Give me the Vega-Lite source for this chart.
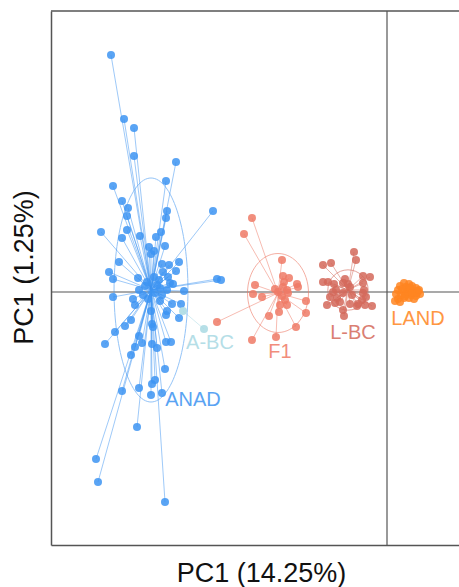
{
  "$schema": "https://vega.github.io/schema/vega-lite/v6.json",
  "width": 408,
  "height": 534,
  "autosize": {"type": "none"},
  "padding": {"left": 51, "top": 11, "right": 0, "bottom": 42},
  "background": "white",
  "config": {
    "view": {"stroke": null},
    "font": "Liberation Sans",
    "axis": {
      "domain": true, "domainColor": "#555555", "domainWidth": 1.5,
      "ticks": false, "labels": false, "grid": false,
      "titleFont": "Liberation Sans", "titleFontSize": 27, "titleFontWeight": "normal", "titleColor": "#111111"
    },
    "axisX": {"titleX": 210, "titleY": 36, "titleBaseline": "alphabetic"},
    "axisY": {"titleX": -19, "titleY": 256, "titleBaseline": "alphabetic", "titleAngle": -90}
  },
  "datasets": {
    "one": [{}],
    "centroids": [
      {"group": "ANAD", "cx": -23.6, "cy": 0.2, "lx": -19.4, "ly": -10.8},
      {"group": "A-BC", "cx": -19.35, "cy": -2.8, "lx": -17.7, "ly": -5.1},
      {"group": "F1", "cx": -10.9, "cy": -0.1, "lx": -10.7, "ly": -6.0},
      {"group": "L-BC", "cx": -3.9, "cy": 0.2, "lx": -3.4, "ly": -4.1},
      {"group": "LAND", "cx": 2.1, "cy": 0.0, "lx": 3.1, "ly": -2.7}
    ],
    "points": [
      {"group":"ANAD","x":-27.6,"y":23.7},{"group":"ANAD","x":-26.3,"y":17.3},{"group":"ANAD","x":-25.3,"y":16.4},{"group":"ANAD","x":-25.3,"y":13.6},
      {"group":"ANAD","x":-21.1,"y":13.0},{"group":"ANAD","x":-27.4,"y":10.6},{"group":"ANAD","x":-22.1,"y":11.1},{"group":"ANAD","x":-26.5,"y":9.1},
      {"group":"ANAD","x":-25.9,"y":8.4},{"group":"ANAD","x":-26.0,"y":7.6},{"group":"ANAD","x":-22.0,"y":8.1},{"group":"ANAD","x":-22.1,"y":7.4},
      {"group":"ANAD","x":-17.4,"y":8.1},{"group":"ANAD","x":-28.6,"y":6.0},{"group":"ANAD","x":-26.0,"y":6.2},{"group":"ANAD","x":-26.5,"y":5.4},
      {"group":"ANAD","x":-24.7,"y":5.6},{"group":"ANAD","x":-22.6,"y":6.0},{"group":"ANAD","x":-23.1,"y":5.5},{"group":"ANAD","x":-23.8,"y":4.5},
      {"group":"ANAD","x":-22.2,"y":4.6},{"group":"ANAD","x":-23.3,"y":4.1},{"group":"ANAD","x":-23.6,"y":3.8},{"group":"ANAD","x":-26.8,"y":3.0},
      {"group":"ANAD","x":-20.8,"y":3.0},{"group":"ANAD","x":-22.5,"y":2.8},{"group":"ANAD","x":-21.8,"y":2.7},{"group":"ANAD","x":-21.1,"y":2.1},
      {"group":"ANAD","x":-27.8,"y":2.0},{"group":"ANAD","x":-27.4,"y":1.3},{"group":"ANAD","x":-24.9,"y":1.4},{"group":"ANAD","x":-22.4,"y":2.0},
      {"group":"ANAD","x":-21.9,"y":1.5},{"group":"ANAD","x":-22.8,"y":1.2},{"group":"ANAD","x":-24.0,"y":1.0},{"group":"ANAD","x":-21.7,"y":0.9},
      {"group":"ANAD","x":-21.4,"y":0.8},{"group":"ANAD","x":-17.0,"y":1.3},{"group":"ANAD","x":-16.6,"y":1.2},{"group":"ANAD","x":-24.8,"y":0.2},
      {"group":"ANAD","x":-20.3,"y":0.1},{"group":"ANAD","x":-27.4,"y":-0.5},{"group":"ANAD","x":-25.4,"y":-0.7},{"group":"ANAD","x":-22.7,"y":0.4},
      {"group":"ANAD","x":-22.0,"y":0.2},{"group":"ANAD","x":-23.2,"y":-0.1},{"group":"ANAD","x":-22.5,"y":-0.3},{"group":"ANAD","x":-25.2,"y":-1.3},
      {"group":"ANAD","x":-21.5,"y":-1.2},{"group":"ANAD","x":-20.6,"y":-1.2},{"group":"ANAD","x":-22.0,"y":-1.9},{"group":"ANAD","x":-22.1,"y":-2.3},
      {"group":"ANAD","x":-23.6,"y":-1.9},{"group":"ANAD","x":-20.8,"y":-2.6},{"group":"ANAD","x":-25.6,"y":-2.8},{"group":"ANAD","x":-26.2,"y":-3.4},
      {"group":"ANAD","x":-23.5,"y":-3.2},{"group":"ANAD","x":-23.4,"y":-3.5},{"group":"ANAD","x":-27.2,"y":-4.0},{"group":"ANAD","x":-24.8,"y":-4.4},
      {"group":"ANAD","x":-28.2,"y":-5.2},{"group":"ANAD","x":-25.2,"y":-5.5},{"group":"ANAD","x":-24.5,"y":-5.1},{"group":"ANAD","x":-23.5,"y":-5.2},
      {"group":"ANAD","x":-23.0,"y":-5.6},{"group":"ANAD","x":-22.1,"y":-5.0},{"group":"ANAD","x":-21.6,"y":-5.0},{"group":"ANAD","x":-25.6,"y":-6.3},
      {"group":"ANAD","x":-22.2,"y":-7.7},{"group":"ANAD","x":-23.2,"y":-8.8},{"group":"ANAD","x":-23.5,"y":-9.2},{"group":"ANAD","x":-26.5,"y":-9.9},
      {"group":"ANAD","x":-24.8,"y":-9.6},{"group":"ANAD","x":-22.5,"y":-10.1},{"group":"ANAD","x":-23.6,"y":-10.3},{"group":"ANAD","x":-25.0,"y":-13.5},
      {"group":"ANAD","x":-29.1,"y":-16.7},{"group":"ANAD","x":-28.9,"y":-19.0},{"group":"ANAD","x":-22.2,"y":-21.0},{"group":"ANAD","x":-24.2,"y":0.6},
      {"group":"ANAD","x":-23.0,"y":0.7},{"group":"ANAD","x":-23.9,"y":-0.7},{"group":"ANAD","x":-24.4,"y":-0.3},{"group":"ANAD","x":-22.7,"y":-0.9},
      {"group":"ANAD","x":-23.3,"y":1.5},
      {"group":"A-BC","x":-20.4,"y":-1.9},{"group":"A-BC","x":-18.3,"y":-3.7},
      {"group":"F1","x":-13.5,"y":7.4},{"group":"F1","x":-14.3,"y":5.8},{"group":"F1","x":-10.5,"y":3.2},{"group":"F1","x":-10.4,"y":1.6},
      {"group":"F1","x":-9.8,"y":1.4},{"group":"F1","x":-9.0,"y":0.8},{"group":"F1","x":-8.9,"y":0.5},{"group":"F1","x":-13.2,"y":0.7},
      {"group":"F1","x":-13.4,"y":-0.2},{"group":"F1","x":-12.5,"y":-0.5},{"group":"F1","x":-10.4,"y":0.5},{"group":"F1","x":-10.0,"y":0.2},
      {"group":"F1","x":-10.9,"y":0.0},{"group":"F1","x":-10.5,"y":-0.4},{"group":"F1","x":-10.2,"y":-0.8},{"group":"F1","x":-8.1,"y":-0.9},
      {"group":"F1","x":-10.7,"y":-1.3},{"group":"F1","x":-10.0,"y":-1.3},{"group":"F1","x":-10.8,"y":-2.0},{"group":"F1","x":-8.1,"y":-2.1},
      {"group":"F1","x":-11.8,"y":-2.4},{"group":"F1","x":-9.1,"y":-3.5},{"group":"F1","x":-11.1,"y":-4.5},{"group":"F1","x":-13.5,"y":-4.8},
      {"group":"F1","x":-9.9,"y":-0.1},{"group":"F1","x":-17.0,"y":-3.0},{"group":"F1","x":-11.2,"y":0.3},{"group":"F1","x":-10.3,"y":1.0},
      {"group":"L-BC","x":-3.3,"y":4.0},{"group":"L-BC","x":-3.1,"y":3.2},{"group":"L-BC","x":-6.4,"y":2.7},{"group":"L-BC","x":-5.6,"y":2.9},
      {"group":"L-BC","x":-2.4,"y":1.6},{"group":"L-BC","x":-1.7,"y":1.5},{"group":"L-BC","x":-4.2,"y":1.3},{"group":"L-BC","x":-4.4,"y":0.9},
      {"group":"L-BC","x":-6.4,"y":1.0},{"group":"L-BC","x":-5.9,"y":1.0},{"group":"L-BC","x":-5.3,"y":0.8},{"group":"L-BC","x":-2.4,"y":0.9},
      {"group":"L-BC","x":-2.3,"y":0.2},{"group":"L-BC","x":-5.1,"y":0.2},{"group":"L-BC","x":-3.7,"y":0.5},{"group":"L-BC","x":-5.7,"y":-0.5},
      {"group":"L-BC","x":-5.0,"y":-0.6},{"group":"L-BC","x":-2.4,"y":-0.1},{"group":"L-BC","x":-4.4,"y":-0.1},{"group":"L-BC","x":-3.5,"y":-0.3},
      {"group":"L-BC","x":-2.5,"y":-0.8},{"group":"L-BC","x":-6.0,"y":-1.3},{"group":"L-BC","x":-5.2,"y":-1.1},{"group":"L-BC","x":-4.7,"y":-1.0},
      {"group":"L-BC","x":-3.7,"y":-1.2},{"group":"L-BC","x":-2.9,"y":-1.2},{"group":"L-BC","x":-2.2,"y":-1.3},{"group":"L-BC","x":-1.5,"y":-1.4},
      {"group":"L-BC","x":-4.4,"y":-1.8},{"group":"L-BC","x":-4.3,"y":-2.4},{"group":"L-BC","x":-3.0,"y":-1.4},{"group":"L-BC","x":-2.1,"y":-0.5},
      {"group":"L-BC","x":-5.4,"y":0.0},{"group":"L-BC","x":-3.9,"y":0.8},
      {"group":"LAND","x":1.7,"y":0.9},{"group":"LAND","x":2.2,"y":0.8},{"group":"LAND","x":1.3,"y":0.6},{"group":"LAND","x":1.9,"y":0.5},
      {"group":"LAND","x":2.5,"y":0.6},{"group":"LAND","x":2.9,"y":0.4},{"group":"LAND","x":1.1,"y":0.2},{"group":"LAND","x":1.6,"y":0.1},
      {"group":"LAND","x":2.1,"y":0.2},{"group":"LAND","x":2.6,"y":0.1},{"group":"LAND","x":3.1,"y":0.1},{"group":"LAND","x":3.3,"y":-0.2},
      {"group":"LAND","x":0.9,"y":-0.2},{"group":"LAND","x":1.4,"y":-0.3},{"group":"LAND","x":1.9,"y":-0.2},{"group":"LAND","x":2.4,"y":-0.3},
      {"group":"LAND","x":2.9,"y":-0.4},{"group":"LAND","x":1.1,"y":-0.7},{"group":"LAND","x":1.7,"y":-0.6},{"group":"LAND","x":2.2,"y":-0.6},
      {"group":"LAND","x":2.7,"y":-0.7},{"group":"LAND","x":0.8,"y":-0.9},{"group":"LAND","x":1.3,"y":-1.0},{"group":"LAND","x":2.1,"y":0.0},
      {"group":"LAND","x":2.3,"y":0.4},{"group":"LAND","x":1.5,"y":0.3},{"group":"LAND","x":1.8,"y":-0.4},{"group":"LAND","x":2.5,"y":-0.1},
      {"group":"LAND","x":3.0,"y":-0.1},{"group":"LAND","x":3.2,"y":0.2}
    ]
  },
  "layer": [
    {
      "data": {"name": "one"},
      "mark": {"type": "rule", "color": "#555555", "strokeWidth": 1.2},
      "encoding": {"x": {"datum": 0, "type": "quantitative", "scale": {"domain": [-33.6, 7.2], "nice": false, "zero": false}, "title": "PC1 (14.25%)"}}
    },
    {
      "data": {"name": "one"},
      "mark": {"type": "rule", "color": "#555555", "strokeWidth": 1.2},
      "encoding": {"y": {"datum": 0, "type": "quantitative", "scale": {"domain": [-25.3, 28.1], "nice": false, "zero": false}, "title": "PC1 (1.25%)"}}
    },
    {
      "data": {"name": "one"},
      "mark": {"type": "rule", "color": "#555555", "strokeWidth": 1.5},
      "encoding": {"y": {"datum": 28.1, "type": "quantitative", "scale": {"domain": [-25.3, 28.1], "nice": false, "zero": false}, "title": "PC1 (1.25%)"}}
    },
    {
      "data": {"name": "points"},
      "transform": [{"lookup": "group", "from": {"data": {"name": "centroids"}, "key": "group", "fields": ["cx", "cy"]}}],
      "mark": {"type": "rule", "strokeWidth": 1, "opacity": 0.5},
      "encoding": {
        "x": {"field": "x", "type": "quantitative", "scale": {"domain": [-33.6, 7.2], "nice": false, "zero": false}, "title": "PC1 (14.25%)"},
        "y": {"field": "y", "type": "quantitative", "scale": {"domain": [-25.3, 28.1], "nice": false, "zero": false}, "title": "PC1 (1.25%)"},
        "x2": {"field": "cx"},
        "y2": {"field": "cy"},
        "color": {"field": "group", "type": "nominal", "scale": {"domain": ["ANAD", "A-BC", "F1", "L-BC", "LAND"], "range": ["#3d94f2", "#a9d9e3", "#ef7a66", "#d4695a", "#ff8521"]}, "legend": null}
      }
    },
    {
      "data": {"name": "centroids"},
      "transform": [{"filter": "datum.group === 'ANAD'"}],
      "mark": {"type": "point", "filled": false, "color": "#3d94f2", "opacity": 0.55, "strokeWidth": 1, "size": 50176,
        "shape": "M0.33,0C0.33,0.552,0.182,1,0,1C-0.182,1,-0.33,0.552,-0.33,0C-0.33,-0.552,-0.182,-1,0,-1C0.182,-1,0.33,-0.552,0.33,0Z"},
      "encoding": {
        "x": {"field": "cx", "type": "quantitative", "scale": {"domain": [-33.6, 7.2], "nice": false, "zero": false}, "title": "PC1 (14.25%)"},
        "y": {"field": "cy", "type": "quantitative", "scale": {"domain": [-25.3, 28.1], "nice": false, "zero": false}, "title": "PC1 (1.25%)"}
      }
    },
    {
      "data": {"name": "centroids"},
      "transform": [{"filter": "datum.group === 'F1'"}],
      "mark": {"type": "point", "filled": false, "color": "#ef7a66", "opacity": 0.6, "strokeWidth": 1, "size": 6241,
        "shape": "M0.772,0C0.772,0.552,0.426,1,0,1C-0.426,1,-0.772,0.552,-0.772,0C-0.772,-0.552,-0.426,-1,0,-1C0.426,-1,0.772,-0.552,0.772,0Z"},
      "encoding": {
        "x": {"field": "cx", "type": "quantitative", "scale": {"domain": [-33.6, 7.2], "nice": false, "zero": false}, "title": "PC1 (14.25%)"},
        "y": {"field": "cy", "type": "quantitative", "scale": {"domain": [-25.3, 28.1], "nice": false, "zero": false}, "title": "PC1 (1.25%)"}
      }
    },
    {
      "data": {"name": "centroids"},
      "transform": [{"filter": "datum.group === 'L-BC'"}],
      "mark": {"type": "point", "filled": false, "shape": "circle", "color": "#d4695a", "opacity": 0.6, "strokeWidth": 1, "size": 1626},
      "encoding": {
        "x": {"field": "cx", "type": "quantitative", "scale": {"domain": [-33.6, 7.2], "nice": false, "zero": false}, "title": "PC1 (14.25%)"},
        "y": {"field": "cy", "type": "quantitative", "scale": {"domain": [-25.3, 28.1], "nice": false, "zero": false}, "title": "PC1 (1.25%)"}
      }
    },
    {
      "data": {"name": "points"},
      "mark": {"type": "circle", "size": 64, "opacity": 0.85},
      "encoding": {
        "x": {"field": "x", "type": "quantitative", "scale": {"domain": [-33.6, 7.2], "nice": false, "zero": false}, "title": "PC1 (14.25%)"},
        "y": {"field": "y", "type": "quantitative", "scale": {"domain": [-25.3, 28.1], "nice": false, "zero": false}, "title": "PC1 (1.25%)"},
        "color": {"field": "group", "type": "nominal", "scale": {"domain": ["ANAD", "A-BC", "F1", "L-BC", "LAND"], "range": ["#3d94f2", "#a9d9e3", "#ef7a66", "#d4695a", "#ff8521"]}, "legend": null}
      }
    },
    {
      "data": {"name": "centroids"},
      "mark": {"type": "text", "fontSize": 20, "font": "Liberation Sans", "align": "center", "baseline": "middle", "opacity": 0.85},
      "encoding": {
        "x": {"field": "lx", "type": "quantitative", "scale": {"domain": [-33.6, 7.2], "nice": false, "zero": false}, "title": "PC1 (14.25%)"},
        "y": {"field": "ly", "type": "quantitative", "scale": {"domain": [-25.3, 28.1], "nice": false, "zero": false}, "title": "PC1 (1.25%)"},
        "text": {"field": "group", "type": "nominal"},
        "color": {"field": "group", "type": "nominal", "scale": {"domain": ["ANAD", "A-BC", "F1", "L-BC", "LAND"], "range": ["#3d94f2", "#a9d9e3", "#ef7a66", "#d4695a", "#ff8521"]}, "legend": null}
      }
    }
  ]
}
